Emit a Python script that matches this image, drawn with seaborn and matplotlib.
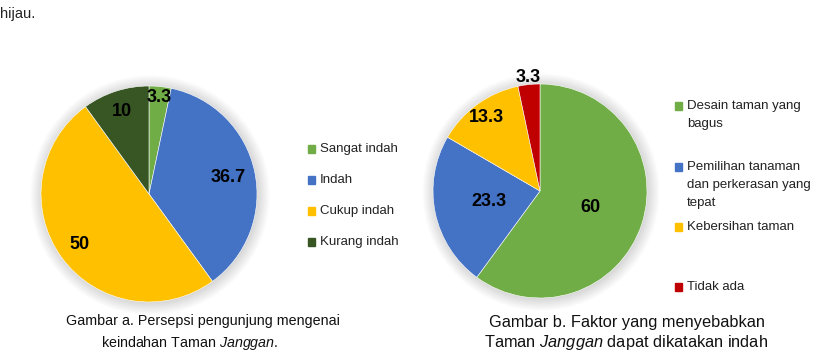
import numpy as np
import matplotlib
matplotlib.use("Agg")
import matplotlib.pyplot as plt
import seaborn as sns

# data
persepsi_labels = ["Sangat indah", "Indah", "Cukup indah", "Kurang indah"]
persepsi_values = [3.3, 36.7, 50, 10]
persepsi_text = ["3.3", "36.7", "50", "10"]

faktor_labels = ["Desain taman yang\nbagus",
                 "Pemilihan tanaman\ndan perkerasan yang\ntepat",
                 "Kebersihan taman",
                 "Tidak ada"]
faktor_values = [60, 23.3, 13.3, 3.3]
faktor_text = ["60", "23.3", "13.3", "3.3"]

colors_a = sns.color_palette(["#70AD47", "#4472C4", "#FFC000", "#375623"])
colors_b = sns.color_palette(["#70AD47", "#4472C4", "#FFC000", "#C00000"])

sns.set_theme(style="white")
plt.rcParams["font.family"] = ["Liberation Sans", "DejaVu Sans"]
plt.rcParams["mathtext.fontset"] = "custom"
plt.rcParams["mathtext.rm"] = "Liberation Sans"
plt.rcParams["mathtext.it"] = "Liberation Sans:italic"

W, H = 813, 359
fig = plt.figure(figsize=(W / 100, H / 100), dpi=100)


def px(x, y):
    return x / W, 1 - y / H


def pie_axes(cx, cy, r):
    ax = fig.add_axes([(cx - r) / W, (H - cy - r) / H, 2 * r / W, 2 * r / H])
    return ax


def draw_pie(ax, values, cols, texts, dists):
    wedges, _ = ax.pie(values, colors=cols, startangle=90, counterclock=False,
                       radius=1, wedgeprops=dict(edgecolor="white", linewidth=0.4))
    ax.set_xlim(-1, 1)
    ax.set_ylim(-1, 1)
    ax.set_aspect("equal")
    ax.axis("off")
    # soft shadow round the pie
    for k in range(10):
        ax.add_patch(plt.Circle((0.01, -0.01), 1 + 0.012 * k, color="black",
                                alpha=0.016, lw=0, zorder=0, clip_on=False))
    for w, t, d in zip(wedges, texts, dists):
        th = np.deg2rad((w.theta1 + w.theta2) / 2)
        ax.text(d * np.cos(th), d * np.sin(th), t, ha="center", va="center",
                fontsize=13, fontweight="bold", color="black")


ax_a = pie_axes(149, 194, 108)
draw_pie(ax_a, persepsi_values, colors_a, persepsi_text, [0.9, 0.75, 0.8, 0.8])

ax_b = pie_axes(540, 191, 107)
draw_pie(ax_b, faktor_values, colors_b, faktor_text, [0.5, 0.49, 0.85, 1.07])


def legend_entry(x, y, label, col, lh=18):
    fig.patches.append(plt.Rectangle(px(x, y + 4), 7 / W, 8 / H, color=col,
                                     transform=fig.transFigure, figure=fig))
    for i, line in enumerate(label.split("\n")):
        fig.text(*px(x + 12, y + i * lh), line, ha="left", va="center",
                 fontsize=9.5, color="#222222")


for lab, col, y in zip(persepsi_labels, colors_a, [149, 180, 211, 242]):
    legend_entry(308, y, lab, col)

for lab, col, y in zip(faktor_labels, colors_b, [106, 167, 227, 287]):
    legend_entry(675, y, lab, col)

fig.text(*px(0, 14), "hijau.", ha="left", va="center", fontsize=10.5, color="#222222")

fig.text(*px(203, 321), "Gambar a. Persepsi pengunjung mengenai",
         ha="center", va="center", fontsize=10.3, color="#111111")
fig.text(*px(190, 343), r"keindahan Taman $\mathit{Janggan}$.",
         ha="center", va="center", fontsize=10.3, color="#111111")
fig.text(*px(627, 322), "Gambar b. Faktor yang menyebabkan",
         ha="center", va="center", fontsize=11.8, color="#111111")
fig.text(*px(626, 343), r"Taman $\mathit{Janggan}$ dapat dikatakan indah",
         ha="center", va="center", fontsize=11.8, color="#111111")

fig.savefig("out.png", dpi=100)
